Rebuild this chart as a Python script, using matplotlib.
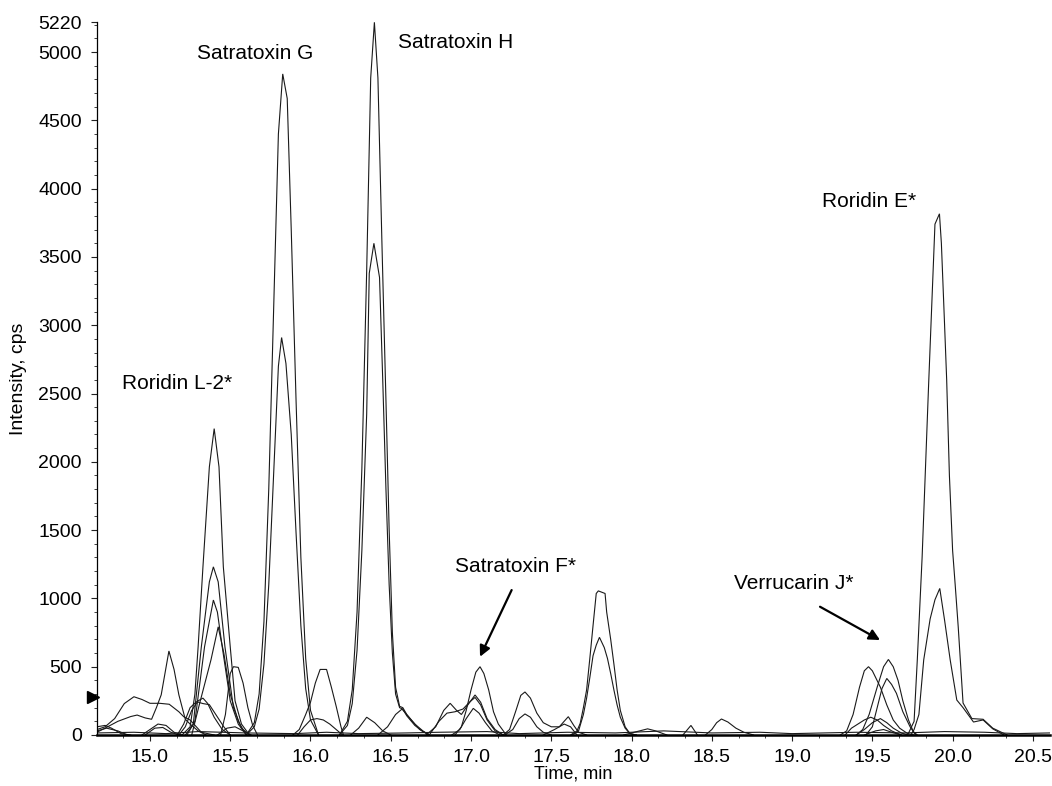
import matplotlib
matplotlib.use('Agg')
import matplotlib.pyplot as plt
from matplotlib.ticker import MultipleLocator, FixedLocator, FormatStrFormatter
import matplotlib.transforms as mtransforms

plt.rcParams['font.family'] = ['Liberation Sans', 'DejaVu Sans']

# ---------------- data (time in min, intensity in cps) ----------------
satG_hi_t = [15.60, 15.65, 15.68, 15.71, 15.74, 15.77, 15.80, 15.827, 15.855, 15.88, 15.91, 15.94, 15.97, 16.00, 16.05]
satG_hi_y = [0, 90, 300, 830, 1800, 3100, 4400, 4840, 4660, 3700, 2450, 1300, 560, 180, 0]
satG_lo_t = [15.60, 15.65, 15.68, 15.71, 15.74, 15.77, 15.80, 15.82, 15.847, 15.88, 15.91, 15.94, 15.97, 16.00, 16.05]
satG_lo_y = [0, 60, 190, 520, 1100, 1900, 2700, 2910, 2720, 2200, 1480, 800, 340, 110, 0]

satH_hi_t = [16.18, 16.23, 16.26, 16.29, 16.32, 16.35, 16.375, 16.398, 16.42, 16.445, 16.47, 16.49, 16.51, 16.53, 16.555, 16.575, 16.60, 16.65, 16.70, 16.74]
satH_hi_y = [0, 100, 330, 900, 1950, 3400, 4810, 5218, 4810, 3600, 2450, 1500, 750, 350, 210, 200, 150, 80, 30, 0]
satH_lo_t = [16.18, 16.23, 16.26, 16.29, 16.32, 16.35, 16.366, 16.395, 16.43, 16.45, 16.47, 16.49, 16.51, 16.53, 16.555, 16.575, 16.60, 16.65, 16.70, 16.74]
satH_lo_y = [0, 70, 230, 620, 1350, 2350, 3380, 3600, 3350, 2600, 1800, 1100, 600, 300, 200, 190, 140, 70, 25, 0]

rorE_hi_t = [19.72, 19.76, 19.78, 19.81, 19.85, 19.89, 19.918, 19.93, 19.95, 19.963, 19.98, 20.00, 20.016, 20.035, 20.065, 20.12, 20.19, 20.25, 20.34]
rorE_hi_y = [0, 100, 550, 1300, 2550, 3740, 3816, 3600, 3000, 2600, 1900, 1350, 1100, 790, 234, 120, 115, 50, 0]
rorE_lo_t = [19.74, 19.76, 19.79, 19.82, 19.86, 19.89, 19.92, 19.95, 19.985, 20.026, 20.065, 20.13, 20.19, 20.25, 20.32]
rorE_lo_y = [0, 40, 150, 550, 850, 990, 1073, 840, 549, 256, 200, 95, 110, 45, 0]

rorL_a_t = [15.20, 15.25, 15.28, 15.30, 15.33, 15.37, 15.40, 15.43, 15.457, 15.50, 15.53, 15.57, 15.62]
rorL_a_y = [0, 60, 300, 646, 1231, 1963, 2243, 1963, 1231, 646, 250, 80, 0]
rorL_b_t = [15.22, 15.27, 15.32, 15.37, 15.395, 15.425, 15.467, 15.52, 15.57, 15.62]
rorL_b_y = [0, 80, 646, 1121, 1231, 1121, 646, 200, 50, 0]
rorL_c_t = [15.23, 15.28, 15.34, 15.395, 15.42, 15.45, 15.50, 15.55, 15.60]
rorL_c_y = [0, 100, 646, 988, 900, 646, 250, 80, 0]
rorL_d_t = [15.26, 15.31, 15.38, 15.425, 15.46, 15.50, 15.55, 15.60]
rorL_d_y = [0, 234, 550, 792, 600, 300, 100, 0]

p155_t = [15.44, 15.47, 15.50, 15.52, 15.55, 15.58, 15.61, 15.64, 15.67]
p155_y = [0, 150, 450, 500, 495, 380, 200, 70, 0]

broad_t = [14.67, 14.72, 14.78, 14.84, 14.90, 14.95, 15.00, 15.06, 15.12, 15.18, 15.21, 15.25, 15.32, 15.40]
broad_y = [40, 60, 120, 230, 280, 260, 232, 232, 225, 170, 134, 110, 20, 0]
p151_t = [14.67, 14.72, 14.80, 14.88, 14.92, 14.97, 15.01, 15.04, 15.07, 15.118, 15.15, 15.18, 15.22, 15.25, 15.30, 15.35]
p151_y = [20, 50, 100, 135, 146, 125, 115, 200, 294, 615, 480, 294, 115, 80, 30, 0]
c1_t = [15.18, 15.22, 15.26, 15.30, 15.33, 15.36, 15.40, 15.45, 15.50]
c1_y = [0, 60, 180, 250, 270, 230, 130, 40, 0]
c2_t = [15.17, 15.21, 15.25, 15.29, 15.33, 15.37, 15.41, 15.46, 15.50]
c2_y = [0, 80, 200, 244, 230, 222, 150, 60, 0]
d1_t = [14.95, 15.00, 15.05, 15.10, 15.15, 15.20]
d1_y = [0, 40, 80, 70, 20, 0]
d2_t = [14.97, 15.03, 15.08, 15.13, 15.18]
d2_y = [0, 50, 55, 20, 0]
f1_t = [15.42, 15.48, 15.53, 15.58, 15.63]
f1_y = [0, 50, 60, 30, 0]
g1_t = [14.67, 14.72, 14.76, 14.82, 14.88]
g1_y = [60, 70, 50, 10, 0]
g2_t = [14.67, 14.73, 14.80, 14.86]
g2_y = [30, 50, 30, 0]

p1608_t = [15.89, 15.93, 15.97, 16.00, 16.03, 16.06, 16.10, 16.13, 16.16, 16.19, 16.205]
p1608_y = [0, 40, 150, 240, 380, 480, 480, 350, 210, 60, 0]
b160_t = [15.92, 15.96, 16.00, 16.04, 16.08, 16.12, 16.16, 16.20]
b160_y = [0, 60, 110, 120, 110, 80, 40, 0]
b1635_t = [16.25, 16.30, 16.35, 16.40, 16.45, 16.50]
b1635_y = [0, 50, 130, 90, 30, 0]
b1657_t = [16.42, 16.48, 16.53, 16.57, 16.62, 16.68, 16.74]
b1657_y = [0, 60, 150, 190, 120, 40, 0]

sf1_t = [16.90, 16.94, 16.97, 17.00, 17.03, 17.056, 17.08, 17.11, 17.14, 17.17, 17.22]
sf1_y = [0, 60, 180, 330, 460, 500, 450, 330, 170, 80, 0]
sf2_t = [16.72, 16.78, 16.83, 16.87, 16.91, 16.94, 16.98, 17.025, 17.06, 17.10, 17.15, 17.20]
sf2_y = [0, 60, 180, 232, 180, 150, 220, 293, 240, 120, 40, 0]
sf3_t = [16.74, 16.80, 16.85, 16.90, 16.95, 16.99, 17.025, 17.06, 17.10, 17.15, 17.20]
sf3_y = [0, 100, 160, 170, 190, 240, 275, 220, 110, 30, 0]
sf4_t = [16.88, 16.93, 16.97, 17.014, 17.05, 17.09, 17.13, 17.18]
sf4_y = [0, 40, 120, 195, 160, 90, 30, 0]

p1735a_t = [17.20, 17.24, 17.28, 17.31, 17.336, 17.37, 17.41, 17.45, 17.50, 17.55, 17.58, 17.606, 17.64, 17.67, 17.72]
p1735a_y = [0, 40, 180, 290, 315, 270, 160, 90, 60, 60, 100, 134, 70, 20, 0]
p1735b_t = [17.21, 17.26, 17.30, 17.336, 17.37, 17.41, 17.45, 17.50]
p1735b_y = [0, 40, 120, 154, 130, 60, 20, 0]
b176_t = [17.45, 17.52, 17.58, 17.62, 17.66]
b176_y = [0, 40, 80, 60, 0]

p178a_t = [17.62, 17.66, 17.68, 17.70, 17.72, 17.74, 17.76, 17.78, 17.793, 17.835, 17.845, 17.87, 17.89, 17.91, 17.93, 17.96, 17.99, 18.03]
p178a_y = [0, 30, 85, 200, 330, 560, 800, 1036, 1055, 1036, 900, 700, 520, 330, 180, 60, 10, 0]
p178b_t = [17.63, 17.67, 17.70, 17.72, 17.74, 17.76, 17.78, 17.80, 17.83, 17.85, 17.87, 17.89, 17.91, 17.93, 17.96, 17.99, 18.03]
p178b_y = [0, 30, 150, 270, 420, 580, 658, 715, 640, 560, 450, 330, 220, 130, 50, 10, 0]

b181_t = [17.95, 18.05, 18.10, 18.15, 18.22]
b181_y = [0, 30, 45, 30, 0]
b184_t = [18.32, 18.37, 18.41]
b184_y = [0, 70, 0]
b1858_t = [18.46, 18.50, 18.53, 18.56, 18.60, 18.65, 18.70, 18.76]
b1858_y = [0, 40, 90, 117, 95, 50, 20, 0]

v1_t = [19.30, 19.34, 19.38, 19.42, 19.45, 19.476, 19.50, 19.55, 19.59, 19.63, 19.67, 19.72, 19.76]
v1_y = [0, 30, 150, 350, 470, 500, 470, 350, 220, 110, 50, 10, 0]
v2_t = [19.40, 19.44, 19.48, 19.53, 19.57, 19.60, 19.63, 19.66, 19.69, 19.725, 19.755, 19.78]
v2_y = [0, 40, 150, 350, 500, 553, 500, 400, 250, 110, 25, 0]
v3_t = [19.46, 19.50, 19.53, 19.56, 19.59, 19.62, 19.65, 19.69, 19.735, 19.77]
v3_y = [0, 60, 200, 340, 414, 370, 305, 170, 60, 0]
v4_t = [19.33, 19.37, 19.41, 19.45, 19.49, 19.53, 19.57, 19.62, 19.68]
v4_y = [0, 50, 80, 110, 130, 110, 70, 30, 0]
v5_t = [19.40, 19.45, 19.50, 19.55, 19.59, 19.63, 19.68, 19.72]
v5_y = [0, 40, 90, 120, 90, 50, 15, 0]
v6_t = [19.45, 19.52, 19.57, 19.62, 19.68]
v6_y = [0, 30, 40, 20, 0]

noise_t = [14.67, 14.9, 15.1, 15.3, 15.6, 15.9, 16.1, 16.3, 16.6, 16.8, 17.1, 17.3, 17.6, 17.9, 18.2, 18.5,
           18.8, 19.0, 19.2, 19.4, 19.7, 19.95, 20.2, 20.4, 20.606]
noise_y = [15, 20, 10, 25, 15, 10, 20, 10, 15, 20, 25, 10, 20, 15, 30, 15, 20, 10, 15, 20, 15, 25, 20, 10, 15]

traces = [
    (satG_hi_t, satG_hi_y), (satG_lo_t, satG_lo_y), (satH_hi_t, satH_hi_y), (satH_lo_t, satH_lo_y),
    (rorE_hi_t, rorE_hi_y), (rorE_lo_t, rorE_lo_y), (rorL_a_t, rorL_a_y), (rorL_b_t, rorL_b_y),
    (rorL_c_t, rorL_c_y), (rorL_d_t, rorL_d_y), (p155_t, p155_y), (broad_t, broad_y), (p151_t, p151_y),
    (c1_t, c1_y), (c2_t, c2_y), (d1_t, d1_y), (d2_t, d2_y), (f1_t, f1_y), (g1_t, g1_y), (g2_t, g2_y),
    (p1608_t, p1608_y), (b160_t, b160_y), (b1635_t, b1635_y), (b1657_t, b1657_y),
    (sf1_t, sf1_y), (sf2_t, sf2_y), (sf3_t, sf3_y), (sf4_t, sf4_y),
    (p1735a_t, p1735a_y), (p1735b_t, p1735b_y), (b176_t, b176_y), (p178a_t, p178a_y), (p178b_t, p178b_y),
    (b181_t, b181_y), (b184_t, b184_y), (b1858_t, b1858_y),
    (v1_t, v1_y), (v2_t, v2_y), (v3_t, v3_y), (v4_t, v4_y), (v5_t, v5_y), (v6_t, v6_y),
    (noise_t, noise_y),
]

# labels: (text, time, intensity)
peak_labels = [
    ("Satratoxin G", 15.654, 4989),
    ("Satratoxin H", 16.906, 5069),
    ("Roridin L-2*", 15.17, 2575),
    ("Roridin E*", 19.48, 3906),
    ("Satratoxin F*", 17.28, 1236),
    ("Verrucarin J*", 19.01, 1112),
]
# arrows: (tail time, tail intensity, head time, head intensity)
arrows = [
    (17.253, 1061, 17.056, 573),
    (19.174, 939, 19.548, 695),
]
x_ticks = [15.0, 15.5, 16.0, 16.5, 17.0, 17.5, 18.0, 18.5, 19.0, 19.5, 20.0, 20.5]
y_ticks = [0, 500, 1000, 1500, 2000, 2500, 3000, 3500, 4000, 4500, 5000, 5220]
threshold_level = 280
x_range = (14.67, 20.606)
y_range = (0, 5220)

# ---------------- figure ----------------
fig = plt.figure(figsize=(10.52, 7.86), dpi=100)
ax = fig.add_axes([0.0922, 0.0649, 0.9058, 0.9071])

for t, v in traces:
    ax.plot(t, v, color='#1a1a1a', lw=0.8, solid_joinstyle='miter')

ax.set_xlim(*x_range)
ax.set_ylim(*y_range)

for s in ['top', 'right']:
    ax.spines[s].set_visible(False)
ax.spines['bottom'].set_linewidth(1.8)
ax.spines['left'].set_linewidth(0.9)

ax.xaxis.set_major_locator(FixedLocator(x_ticks))
ax.xaxis.set_minor_locator(MultipleLocator(0.5 / 3))
ax.xaxis.set_major_formatter(FormatStrFormatter('%.1f'))
ax.yaxis.set_major_locator(FixedLocator(y_ticks))
ax.yaxis.set_minor_locator(MultipleLocator(100))
ax.yaxis.set_major_formatter(FormatStrFormatter('%d'))

ax.tick_params(axis='both', which='major', labelsize=14, length=4, width=0.8, direction='out', color='#222222')
ax.tick_params(axis='both', which='minor', length=2.5, width=0.6, direction='out', color='#222222')
ax.tick_params(axis='y', which='major', pad=7)
ax.tick_params(axis='x', which='major', pad=6)

ax.set_xlabel('Time, min', fontsize=13, labelpad=0)
ax.set_ylabel('Intensity, cps', fontsize=14, labelpad=8)

for txt, tx, ty in peak_labels:
    ax.text(tx, ty, txt, fontsize=15, ha='center', va='center', color='black')

for x0, y0, x1, y1 in arrows:
    ax.annotate('', xy=(x1, y1), xytext=(x0, y0),
                arrowprops=dict(arrowstyle='-|>', lw=1.6, color='black', mutation_scale=16,
                                shrinkA=0, shrinkB=0))

# threshold marker on the y axis
trans = mtransforms.blended_transform_factory(ax.transAxes, ax.transData)
ax.plot([-0.004], [threshold_level], marker='>', color='black', markersize=8,
        transform=trans, clip_on=False)

fig.savefig('out.png', dpi=100)
